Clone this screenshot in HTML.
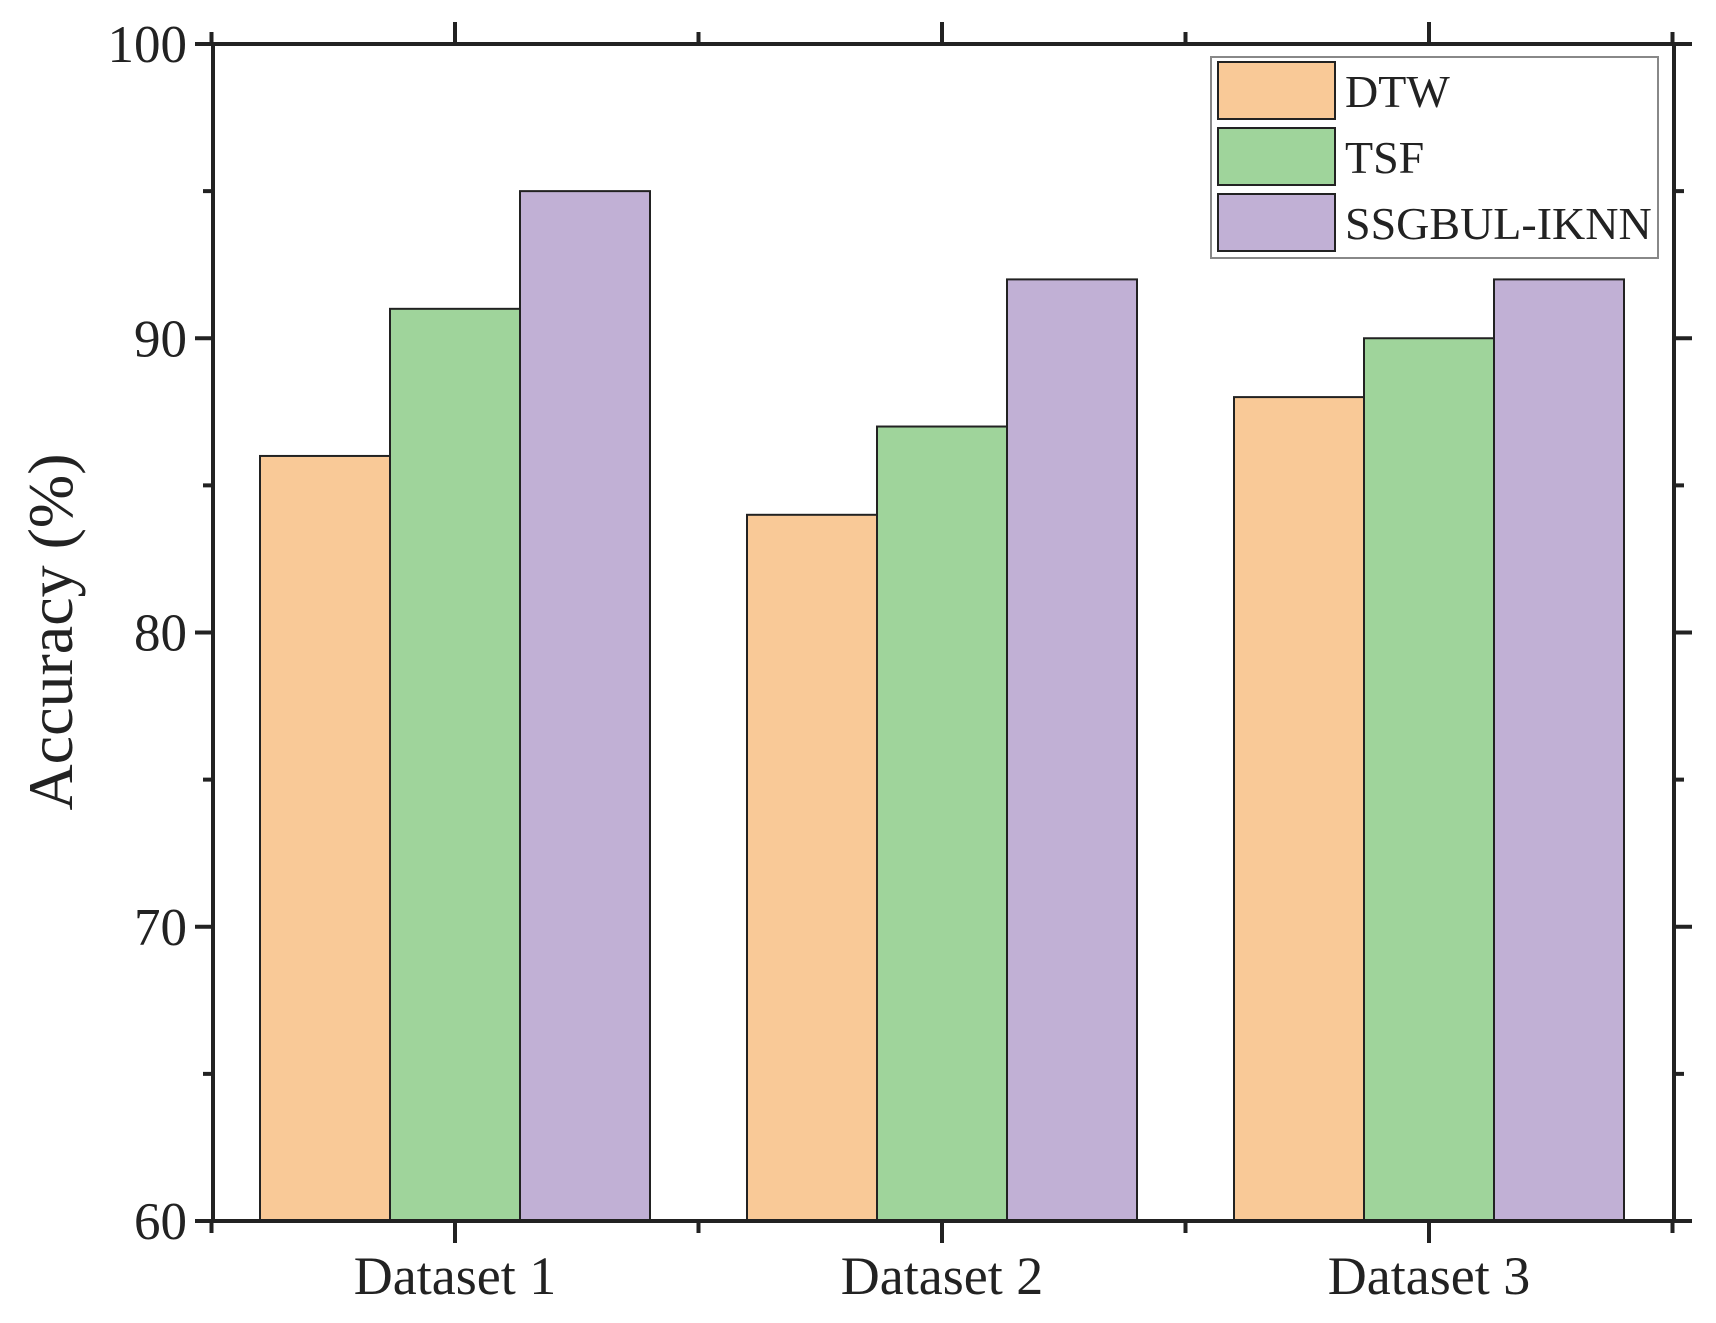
<!DOCTYPE html>
<html><head><meta charset="utf-8"><style>
html,body{margin:0;padding:0;background:#fff}
svg{display:block;font-family:"Liberation Serif",serif}
</style></head><body>
<svg id="chart" width="1716" height="1323" viewBox="0 0 1716 1323" xmlns="http://www.w3.org/2000/svg"></svg>
<script>
const categories = ["Dataset 1", "Dataset 2", "Dataset 3"];
const seriesNames = ["DTW", "TSF", "SSGBUL-IKNN"];
const dtwValues = [86, 84, 88];
const tsfValues = [91, 87, 90];
const ssgValues = [95, 92, 92];
const yTicks = [60, 70, 80, 90, 100];
const yMinorTicks = [65, 75, 85, 95];

const seriesValues = [dtwValues, tsfValues, ssgValues];
const colors = ["#f9c997", "#9fd49b", "#c1b0d5"];
const NS = "http://www.w3.org/2000/svg";
const svg = document.getElementById("chart");
const L = 213, R = 1674, T = 44, B = 1221;
const yMin = 60, yMax = 100;
const y = v => B - (v - yMin) / (yMax - yMin) * (B - T);
const groupW = 487, barW = 130;
const xCenter = i => 455 + i * groupW;
function mk(tag, attrs, parent) {
  const e = document.createElementNS(NS, tag);
  for (const k in attrs) e.setAttribute(k, attrs[k]);
  (parent || svg).appendChild(e);
  return e;
}
seriesValues.forEach((vals, s) => {
  vals.forEach((v, i) => {
    const x = xCenter(i) + (s - 1.5) * barW;
    const r = mk("rect", {x: x, y: y(v), width: barW, height: B - y(v), fill: colors[s], stroke: "#222", "stroke-width": 2});
    
    
  });
});
const frame = mk("rect", {x: L, y: T, width: R - L, height: B - T, fill: "none", stroke: "#222", "stroke-width": 4});


yTicks.forEach(v => {
  mk("line", {x1: L - 18, x2: L, y1: y(v), y2: y(v), stroke: "#222", "stroke-width": 4});
  mk("line", {x1: R, x2: R + 18, y1: y(v), y2: y(v), stroke: "#222", "stroke-width": 4});
  const t = mk("text", {x: L - 26, y: y(v) + 18, "text-anchor": "end", "font-size": 53, fill: "#222"});
  t.textContent = v;
  
  
});
yMinorTicks.forEach(v => {
  mk("line", {x1: L - 10, x2: L, y1: y(v), y2: y(v), stroke: "#222", "stroke-width": 4});
  mk("line", {x1: R, x2: R + 10, y1: y(v), y2: y(v), stroke: "#222", "stroke-width": 4});
});
categories.forEach((c, i) => {
  const xc = xCenter(i);
  mk("line", {x1: xc, x2: xc, y1: B, y2: B + 22, stroke: "#222", "stroke-width": 4});
  mk("line", {x1: xc, x2: xc, y1: T, y2: T - 22, stroke: "#222", "stroke-width": 4});
  const t = mk("text", {x: xc, y: 1294, "text-anchor": "middle", "font-size": 54, fill: "#222"});
  t.textContent = c;
  
  
});
[0, 1, 2, 3].forEach(k => {
  const xm = xCenter(0) - groupW / 2 + k * groupW;
  mk("line", {x1: xm, x2: xm, y1: B, y2: B + 12, stroke: "#222", "stroke-width": 4});
  mk("line", {x1: xm, x2: xm, y1: T, y2: T - 12, stroke: "#222", "stroke-width": 4});
});
const yt = mk("text", {x: 0, y: 0, transform: "translate(72,632) rotate(-90)", "text-anchor": "middle", "font-size": 64, fill: "#222"});
yt.textContent = "Accuracy (%)";


const lg = mk("g", {});


mk("rect", {x: 1211, y: 57, width: 447, height: 201, fill: "#fff", stroke: "#888", "stroke-width": 2}, lg);
seriesNames.forEach((n, s) => {
  const yy = 62 + s * 66;
  mk("rect", {x: 1218, y: yy, width: 117, height: 57, fill: colors[s], stroke: "#222", "stroke-width": 2}, lg);
  const t = mk("text", {x: 1345, y: yy + 45, "font-size": 46, fill: "#222"}, lg);
  t.textContent = n;
  
  
});
</script>
</body></html>
